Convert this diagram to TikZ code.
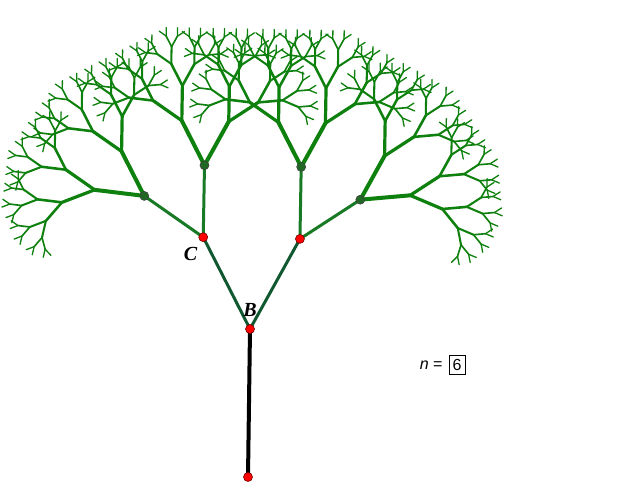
\documentclass[tikz,border=0pt]{standalone}
\usepackage{fontspec}
\setmainfont{Liberation Serif}
\newfontfamily\labelfont{Liberation Sans}
\usetikzlibrary{positioning}

\definecolor{leafgreen}{RGB}{14,128,14}
\definecolor{stemgreen}{RGB}{24,122,36}
\definecolor{forkgreen}{RGB}{16,88,48}
\definecolor{knotgreen}{RGB}{32,104,36}

\newcommand{\treefork}[2]{%
  \ifnum#1>0
    \pgfmathsetmacro\twignext{#2*0.8}%
    \edef\twigcall{\noexpand\treefork{\the\numexpr#1-1\relax}{\twignext}}%
    \foreach \turn in {28,-28}{%
      \begin{scope}[rotate=\turn]
        \draw[twig, line width=#2pt] (0,0) -- (0,1);
        \begin{scope}[shift={(0,1)}, scale=0.7]\twigcall\end{scope}
      \end{scope}}%
  \fi}

\begin{document}
\begin{tikzpicture}[x=1pt, y=1pt,
    trunk/.style={line width=4pt, black},
    fork/.style={line width=3pt, forkgreen},
    stem/.style={line width=3pt, stemgreen},
    twig/.style={leafgreen, line cap=round},
    redpt/.style={circle, fill=red, draw=red!45!black, line width=0.6pt, inner sep=0pt, minimum size=9pt},
    knot/.style={circle, fill=knotgreen, draw=black!75, line width=0.6pt, inner sep=0pt, minimum size=9pt},
    pointlabel/.style={font=\fontsize{20}{20}\selectfont\bfseries\itshape},
    valuefont/.style={font=\labelfont\fontsize{16}{16}\selectfont}
]
\useasboundingbox (0,0) rectangle (640,489);

\coordinate (root) at (248,12);
\coordinate (B) at (250,160);
\path (B) ++(117:103) coordinate (C);
\path (B) ++(61:103) coordinate (D);
\path (C) ++(145:72) coordinate (CL);
\path (C) ++(89:72) coordinate (CR);
\path (D) ++(89:72) coordinate (DL);
\path (D) ++(33:72) coordinate (DR);

\draw[trunk] (root) -- (B);
\draw[fork] (B) -- (C);
\draw[fork] (B) -- (D);
\draw[stem] (C) -- (CL);
\draw[stem] (C) -- (CR);
\draw[stem] (D) -- (DL);
\draw[stem] (D) -- (DR);

\begin{scope}[shift={(CL)}, rotate=55, scale=50] \treefork{6}{4} \end{scope}
\begin{scope}[shift={(CR)}, rotate=-1, scale=50] \treefork{6}{4} \end{scope}
\begin{scope}[shift={(DL)}, rotate=-1, scale=50] \treefork{6}{4} \end{scope}
\begin{scope}[shift={(DR)}, rotate=-57, scale=50] \treefork{6}{4} \end{scope}

\node[knot] (CLpt) at (CL) {};
\node[knot] (CRpt) at (CR) {};
\node[knot] (DLpt) at (DL) {};
\node[knot] (DRpt) at (DR) {};
\node[redpt] (rootpt) at (root) {};
\node[redpt] (Bpt) at (B) {};
\node[redpt] (Cpt) at (C) {};
\node[redpt] (Dpt) at (D) {};

\node[pointlabel] (Blabel) at (250,179.5) {B};
\node[pointlabel] (Clabel) at (190.5,235) {C};

\node[valuefont, anchor=east] (nlabel) at (446,124) {\textit{n} =};
\node[valuefont, draw, line width=0.8pt, minimum width=16pt, minimum height=19pt, inner sep=0pt] (nvalue) at (457,124.5) {6};

\end{tikzpicture}
\end{document}
